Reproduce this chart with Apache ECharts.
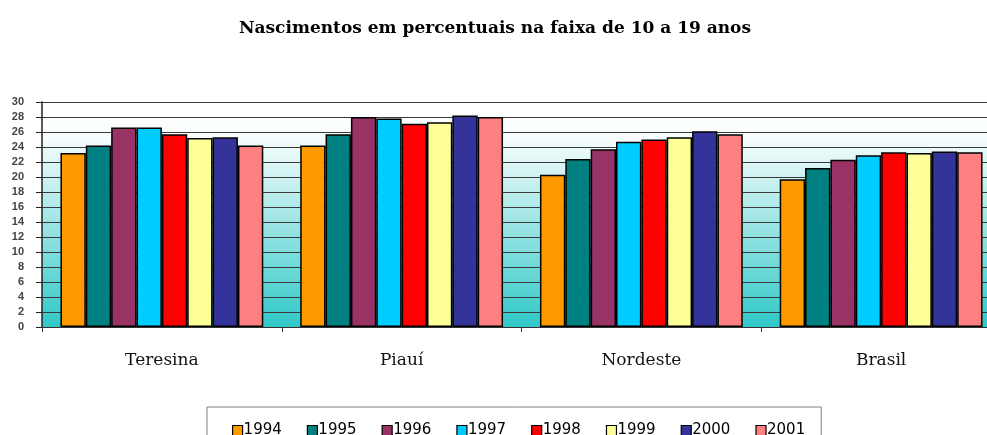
<!DOCTYPE html>
<html><head><meta charset="utf-8">
<script src="https://cdn.jsdelivr.net/npm/echarts@6/dist/echarts.min.js"></script>
<style>html,body{margin:0;padding:0;background:#fff;overflow:hidden}#c{width:1006px;height:435px}</style>
</head><body><div id="c"></div>
<script>
const categories = ['Teresina', 'Piauí', 'Nordeste', 'Brasil'];
const years = ['1994', '1995', '1996', '1997', '1998', '1999', '2000', '2001'];
const colors = ['#FF9900', '#008080', '#993366', '#00CCFF', '#FF0000', '#FFFF99', '#333399', '#FF8080'];
const v1994 = [23.2, 24.2, 20.3, 19.7];
const v1995 = [24.2, 25.7, 22.4, 21.2];
const v1996 = [26.6, 28.0, 23.7, 22.3];
const v1997 = [26.6, 27.8, 24.7, 22.9];
const v1998 = [25.7, 27.1, 25.0, 23.3];
const v1999 = [25.2, 27.3, 25.3, 23.2];
const v2000 = [25.3, 28.2, 26.1, 23.4];
const v2001 = [24.2, 28.0, 25.7, 23.3];
const yTicks = [0, 30, 2];
const seriesValues = [v1994, v1995, v1996, v1997, v1998, v1999, v2000, v2001];

const chart = echarts.init(document.getElementById('c'), null, {renderer: 'canvas'});
chart.setOption({
  animation: false,
  title: {
    text: 'Nascimentos em percentuais na faixa de 10 a 19 anos',
    left: 490, top: 15, textAlign: 'center',
    textStyle: {fontFamily: 'DejaVu Serif', fontWeight: 'bold', fontSize: 17, color: '#000'}
  },
  legend: {
    data: years,
    left: 207, top: 407,
    padding: [16, 16, 20, 25],
    borderColor: '#808080', borderWidth: 1,
    itemWidth: 10, itemHeight: 10, itemGap: 25,
    icon: 'rect',
    itemStyle: {borderColor: '#000', borderWidth: 1.2},
    textStyle: {fontFamily: 'DejaVu Sans', fontSize: 15, color: '#000', padding: [0, 0, 0, -4]}
  },
  grid: {
    left: 42, top: 102, bottom: 108, width: 959,
    show: true, borderWidth: 0,
    backgroundColor: {type: 'linear', x: 0, y: 0, x2: 0, y2: 1,
      colorStops: [{offset: 0, color: '#ffffff'}, {offset: 0.15, color: '#fafdfd'}, {offset: 1, color: '#30c8c8'}]}
  },
  xAxis: {
    type: 'category', data: categories,
    axisLine: {lineStyle: {color: '#333', width: 1}},
    axisTick: {show: true, length: 5, lineStyle: {color: '#333'}},
    axisLabel: {margin: 25, fontFamily: 'DejaVu Serif', fontSize: 17, color: '#111'}
  },
  yAxis: {
    type: 'value', min: yTicks[0], max: yTicks[1], interval: yTicks[2],
    axisLine: {show: true, lineStyle: {color: '#222', width: 1.5}},
    axisTick: {show: true, length: 6, lineStyle: {color: '#222'}},
    axisLabel: {margin: 18, fontFamily: 'Liberation Sans', fontWeight: 'bold', fontSize: 11, color: '#444'},
    splitLine: {show: true, lineStyle: {color: '#3a3a3a', width: 1.2}}
  },
  series: years.map((y, i) => ({
    name: y, type: 'bar', data: seriesValues[i],
    barGap: '0%', barCategoryGap: '15.4%',
    itemStyle: {color: colors[i], borderColor: '#000', borderWidth: 1.5}
  }))
});
</script></body></html>
